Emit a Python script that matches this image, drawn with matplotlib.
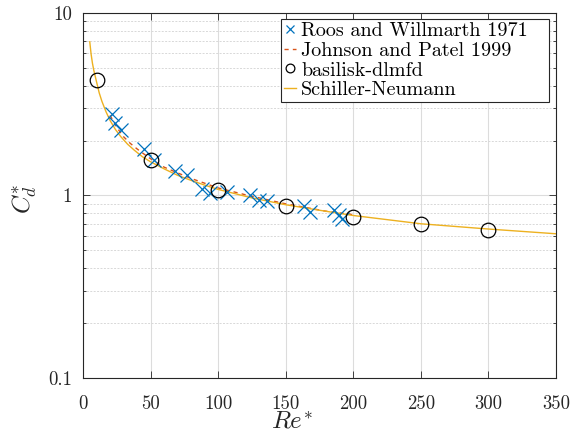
import matplotlib
matplotlib.use("Agg")
import matplotlib.pyplot as plt
from matplotlib.ticker import FixedLocator, FixedFormatter, LogLocator, NullFormatter

plt.rcParams['font.family'] = 'serif'
plt.rcParams['font.serif'] = ['cmr10', 'DejaVu Serif']
plt.rcParams['mathtext.fontset'] = 'cm'
plt.rcParams['axes.formatter.use_mathtext'] = True

# Roos and Willmarth 1971
roos_re = [21.4, 23.9, 28.3, 44.8, 52.2, 68.3, 76.9, 88.0, 94.2, 106.5,
           123.7, 129.9, 136.1, 163.2, 168.1, 185.4, 189.1, 191.6]
roos_cd = [2.80, 2.49, 2.29, 1.80, 1.56, 1.36, 1.29, 1.09, 1.03, 1.04,
           1.00, 0.94, 0.93, 0.88, 0.81, 0.83, 0.78, 0.745]

# Johnson and Patel 1999
jp_re = [20, 25, 30, 35, 40, 45, 50, 60, 70, 80, 100, 120, 150, 180, 200]
jp_cd = [2.75, 2.36, 2.10, 1.93, 1.80, 1.69, 1.59, 1.43, 1.33, 1.24, 1.10, 1.01, 0.90, 0.82, 0.785]

# basilisk-dlmfd
bas_re = [10, 50, 100, 150, 200, 250, 300]
bas_cd = [4.31, 1.57, 1.07, 0.88, 0.767, 0.694, 0.649]

# Schiller-Neumann
sn_re = [5, 6, 7, 8, 10, 12, 14, 17, 20, 24, 28, 33, 38, 44, 50, 60, 70, 80,
         90, 100, 125, 150, 175, 200, 250, 300, 350]
sn_cd = [6.95, 5.95, 5.30, 4.85, 4.20, 3.65, 3.28, 2.88, 2.58, 2.30, 2.10, 1.91,
         1.77, 1.63, 1.53, 1.40, 1.29, 1.21, 1.14, 1.08, 0.97, 0.89, 0.83,
         0.777, 0.700, 0.655, 0.617]

x_ticks = [0, 50, 100, 150, 200, 250, 300, 350]
y_ticks = [0.1, 1, 10]
y_tick_labels = ['0.1', '1', '10']

fig = plt.figure(figsize=(5.70, 4.36), dpi=100)
ax = fig.add_axes([83/570, 1-378/436, (556-83)/570, (378-13)/436])

ax.plot(roos_re, roos_cd, linestyle='none', marker='x', color='#0072BD',
        markersize=9.5, markeredgewidth=0.9, label='Roos and Willmarth 1971', zorder=3)
ax.plot(jp_re, jp_cd, linestyle=(0, (3, 3)), color='#D95319', linewidth=1.0,
        label='Johnson and Patel 1999', zorder=2)
ax.plot(bas_re, bas_cd, linestyle='none', marker='o', markerfacecolor='none',
        markeredgecolor='black', markersize=10.5, markeredgewidth=0.9,
        label='basilisk-dlmfd', zorder=4)
ax.plot(sn_re, sn_cd, linestyle='-', color='#EDB120', linewidth=1.0,
        label='Schiller-Neumann', zorder=2)

ax.set_yscale('log')
ax.set_xlim(0, 350)
ax.set_ylim(0.1, 10)
ax.xaxis.set_major_locator(FixedLocator(x_ticks))
ax.xaxis.set_major_formatter(FixedFormatter([str(v) for v in x_ticks]))
ax.yaxis.set_major_locator(FixedLocator(y_ticks))
ax.yaxis.set_major_formatter(FixedFormatter(y_tick_labels))
ax.yaxis.set_minor_locator(LogLocator(base=10, subs=range(2, 10)))
ax.yaxis.set_minor_formatter(NullFormatter())

ax.grid(True, which='major', color='#dcdcdc', linewidth=0.8)
ax.grid(True, which='minor', axis='y', color='#d8d8d8', linestyle=(0, (2, 1.5)), linewidth=0.7)
ax.set_axisbelow(True)

for s in ax.spines.values():
    s.set_color('#262626')
    s.set_linewidth(0.8)
ax.tick_params(which='both', direction='in', top=True, right=True,
               colors='#262626', labelcolor='#262626', labelsize=13.5, width=0.6)
ax.tick_params(which='major', length=5)
ax.tick_params(axis='x', which='major', pad=12)
ax.tick_params(axis='y', which='major', pad=8)
ax.tick_params(which='minor', length=2.5)

ax.set_xlabel(r'$Re^{*}$', fontsize=18, color='#262626')
ax.set_ylabel(r'$C_d^{*}$', fontsize=18, color='#262626')
ax.xaxis.set_label_coords((292 - 83) / 473, (378 - 411) / 365)
ax.yaxis.set_label_coords((39 - 83) / 473, 0.49)

x0 = (281 - 83) / 473
w = (549 - 281) / 473
top = (378 - 19) / 365
leg = ax.legend(loc='upper left', bbox_to_anchor=(x0, 0, w, top), mode='expand',
                fontsize=14.5, fancybox=False, framealpha=1,
                edgecolor='#262626', borderaxespad=0, labelspacing=0.08,
                handlelength=0.6, handletextpad=0.25, borderpad=0.15,
                markerscale=0.6)
leg.get_frame().set_linewidth(0.8)

fig.savefig('out.png', dpi=100)
